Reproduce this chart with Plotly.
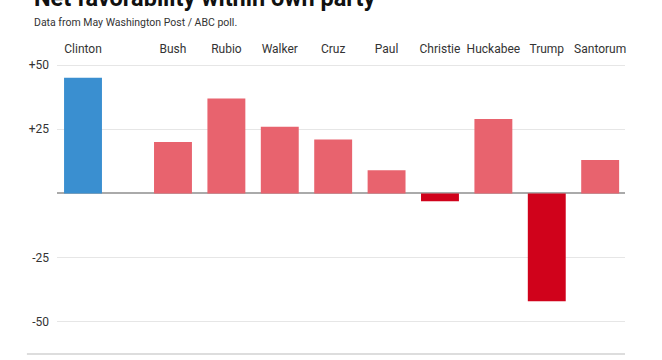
import plotly.graph_objects as go

# Data
dem_names = ["Clinton"]
dem_values = [45]
rep_names = ["Bush", "Rubio", "Walker", "Cruz", "Paul", "Christie", "Huckabee", "Trump", "Santorum"]
rep_values = [20, 37, 26, 21, 9, -3, 29, -42, 13]
y_tickvals = [50, 25, -25, -50]
y_ticktext = ["+50", "+25", "-25", "-50"]

title_text = "Net favorability within own party"
subtitle_text = "Data from May Washington Post / ABC poll."

BLUE = "#3a8fd0"
PINK = "#e8636e"
DARKRED = "#d0021b"
FONT = "Roboto, Liberation Sans, sans-serif"

rep_colors = [PINK if v >= 0 else DARKRED for v in rep_values]

fig = go.Figure()
fig.add_trace(go.Bar(x=dem_names, y=dem_values, marker=dict(color=BLUE, line=dict(width=0)),
                     xaxis="x", yaxis="y", hoverinfo="x+y"))
fig.add_trace(go.Bar(x=rep_names, y=rep_values, marker=dict(color=rep_colors, line=dict(width=0)),
                     xaxis="x2", yaxis="y", hoverinfo="x+y"))

L, R, T, B = 57, 37, 64, 6
fig.update_layout(
    width=662, height=360,
    margin=dict(l=L, r=R, t=T, b=B, pad=0),
    paper_bgcolor="white", plot_bgcolor="white",
    showlegend=False,
    bargap=0.29,
    font=dict(family=FONT, size=12, color="#333"),
    xaxis=dict(type="category", side="top", range=[-0.487, 10.15], showgrid=False,
               zeroline=False, showline=False, ticks="", fixedrange=True,
               ticklabelstandoff=8,
               tickfont=dict(size=12, color="#333")),
    xaxis2=dict(type="category", side="top", overlaying="x", range=[-2.172, 8.465],
                showgrid=False, zeroline=False, showline=False, ticks="",
                ticklabelstandoff=8,
                tickfont=dict(size=12, color="#333")),
    yaxis=dict(range=[-62.5, 50.4], tickvals=y_tickvals, ticktext=y_ticktext,
               showgrid=True, gridcolor="#e6e6e6", gridwidth=1,
               zeroline=True, zerolinecolor="#aaaaaa", zerolinewidth=2,
               showline=False, ticks="", ticklabelstandoff=7,
               tickfont=dict(size=12, color="#333")),
    shapes=[dict(type="line", xref="paper", yref="paper", x0=-0.053, x1=1, y0=0, y1=0,
                 line=dict(color="#dddddd", width=2))],
    annotations=[
        dict(text="<b>" + title_text + "</b>", xref="paper", yref="paper",
             x=-0.044, y=1.171, xanchor="left", yanchor="bottom", showarrow=False,
             font=dict(size=23.5, color="#111", family=FONT)),
        dict(text=subtitle_text, xref="paper", yref="paper",
             x=-0.044, y=1.143, xanchor="left", yanchor="middle", showarrow=False,
             font=dict(size=10.5, color="#333", family=FONT)),
    ],
)

fig.write_html("out.html", config={"displayModeBar": False},
               post_script="document.body.style.margin='0';document.body.style.padding='0';")
